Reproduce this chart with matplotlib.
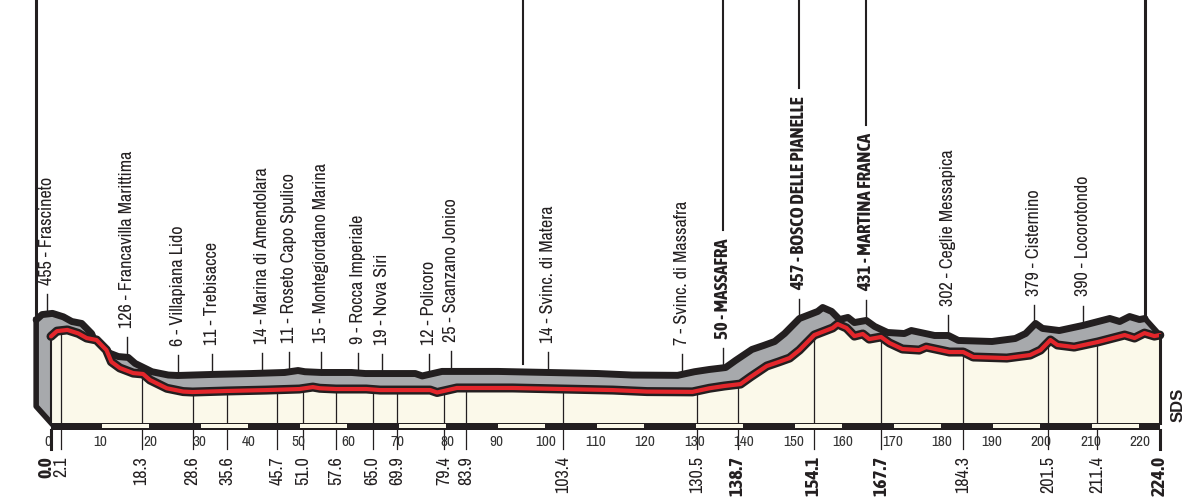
import numpy as np
import matplotlib
matplotlib.use("Agg")
import matplotlib.pyplot as plt
from matplotlib import font_manager
from matplotlib.collections import PolyCollection

# look for a narrow face, the original uses a condensed grotesque
fams = {}
for f in font_manager.fontManager.ttflist:
    if 'Narrow' in f.name or 'Condensed' in f.name:
        w = f.weight
        if isinstance(w, str):
            w = font_manager.weight_dict.get(w, 400)
        fams.setdefault(f.name, set()).add(w)
narrow = sorted(fams)
bold_narrow = [n for n in narrow if max(fams[n]) >= 600]

if narrow:
    REG_FAM = [narrow[0], 'DejaVu Sans']
    SCALE = 1.0
else:
    REG_FAM = ['Liberation Sans', 'DejaVu Sans']
    SCALE = 0.82
if bold_narrow:
    BOLD_FAM = [bold_narrow[0], 'DejaVu Sans']
    BSCALE = 1.0
else:
    BOLD_FAM = ['Liberation Sans', 'DejaVu Sans']
    BSCALE = 0.8
plt.rcParams['font.family'] = REG_FAM

# profile (km, metres)
km = [0, 1.2, 3.3, 5.5, 7.2, 9.2, 11.2, 12.2, 13.9, 16.6, 18.6, 20.0, 23.4, 26.7,
      28.6, 35.6, 43.5, 50.2, 52.9, 54.3, 57.6, 63.7, 66.5, 76.6, 78.0, 82.0,
      93.3, 103.4, 113.5, 120.4, 129.6, 133.0, 136.0, 139.3, 141.3, 144.6, 147.0,
      149.2, 151.2, 154.2, 157.9, 158.9, 160.7, 162.3, 164.0, 165.3, 167.7, 169.4,
      172.0, 175.4, 176.8, 181.5, 184.3, 186.3, 193.1, 197.8, 199.9, 201.9, 203.3,
      206.7, 211.5, 216.9, 218.9, 220.9, 222.9, 224.0]
alt = [375, 410, 418, 395, 364, 351, 284, 206, 165, 131, 125, 85, 30, 8,
       5, 12, 18, 25, 38, 30, 25, 25, 18, 18, 2, 32,
       32, 25, 18, 8, 6, 30, 45, 58, 105, 178, 205,
       231, 284, 384, 431, 457, 431, 377, 391, 357, 371, 331,
       291, 284, 304, 271, 271, 238, 231, 251, 284, 351, 318,
       304, 338, 384, 364, 397, 377, 384]

# places along the route
place_km = [2.1, 18.3, 28.6, 35.6, 45.7, 51.0, 57.6, 65.0, 69.9, 79.4, 83.9,
            103.4, 130.5, 138.7, 154.1, 167.7, 184.3, 201.5, 211.4]
place_names = ["455 - Frascineto", "126 - Francavilla Marittima", "6 - Villapiana Lido",
               "11 - Trebisacce", "14 - Marina di Amendolara", "11 - Roseto Capo Spulico",
               "15 - Montegiordano Marina", "9 - Rocca Imperiale", "19 - Nova Siri",
               "12 - Policoro", "25 - Scanzano Jonico", "14 - Svinc. di Matera",
               "7 - Svinc. di Massafra", "50 - MASSAFRA", "457 - BOSCO DELLE PIANELLE",
               "431 - MARTINA FRANCA", "302 - Ceglie Messapica", "379 - Cisternino",
               "390 - Locorotondo"]
major_km = [138.7, 154.1, 167.7]
start_km = 0.0
finish_km = 224.0
sprint_km = 98.4
km_ticks = list(range(0, 221, 10))

GRAY = '#a7a9ac'
CREAM = '#fbf9ea'
RED = '#e3262b'
INK = '#231f20'

x = np.array(km)
y = np.array(alt, dtype=float)
dx, dy = -3.0, 110.0          # 3d extrusion offset
base = -200.0
strip_h = 45.0
line_bottom = -374.0

fig = plt.figure(figsize=(12, 5), dpi=100)
ax = fig.add_axes([0, 0, 1, 1])
x0 = 51 / 4.95
ax.set_xlim(-x0, (1200 - 51) / 4.95)
ytop = 2612
ax.set_ylim(-713, ytop)
ax.axis('off')

# extruded top surface
quads = []
for i in range(len(x) - 1):
    quads.append([(x[i], y[i]), (x[i + 1], y[i + 1]),
                  (x[i + 1] + dx, y[i + 1] + dy), (x[i] + dx, y[i] + dy)])
quads.append([(0, base), (0, y[0]), (dx, y[0] + dy), (dx, base + dy)])
ax.add_collection(PolyCollection(quads, facecolor=GRAY, edgecolor=GRAY, lw=0.5, zorder=1))
ax.fill_between(x + dx, base + dy, y + dy, color=GRAY, lw=0, zorder=1)

# black silhouette of back face
ax.plot(x + dx, y + dy, color=INK, lw=5, solid_capstyle='round', solid_joinstyle='round', zorder=2)
ax.plot([0, dx, dx], [base, base + dy, y[0] + dy], color=INK, lw=4,
        solid_joinstyle='round', zorder=2)
ax.plot([x[-1] + dx, x[-1]], [y[-1] + dy, y[-1]], color=INK, lw=4, solid_capstyle='round', zorder=2)

# front face
ax.fill_between(x, base, y, color=CREAM, lw=0, zorder=3)
ax.plot([0, 0], [base, y[0]], color=INK, lw=1.5, zorder=4)
ax.plot(x, y, color=INK, lw=6.5, solid_capstyle='round', solid_joinstyle='round', zorder=5)
ax.plot(x, y, color=RED, lw=3, solid_capstyle='round', solid_joinstyle='round', zorder=6)

# km strip
ax.broken_barh([(0, finish_km)], (base - strip_h, strip_h), facecolors=INK, zorder=4)
odd = [(k + 0.3, 9.4) for k in km_ticks if (k // 10) % 2 == 1]
ax.broken_barh(odd, (base - strip_h + 9, strip_h - 18), facecolors=CREAM, zorder=4)
for k in km_ticks:
    ax.text(k - (0.6 if k == 0 else 0), -328, str(k), ha='center', va='center',
            fontsize=11 * SCALE, color='#333333', zorder=7)

# place lines and km labels
all_km = [start_km] + place_km + [finish_km]
for k in all_km:
    ye = np.interp(k, x, y)
    heavy = k in (start_km, finish_km)
    ax.plot([k, k], [ye if not heavy else base - strip_h, line_bottom], color=INK,
            lw=2.2 if heavy else 0.9, zorder=7 if heavy else 3.5)
    bold = heavy or k in major_km
    if bold:
        kw = dict(family=BOLD_FAM, fontweight='bold', fontsize=14 * BSCALE)
    else:
        kw = dict(fontsize=13 * SCALE)
    ax.text(k - (0.9 if k == start_km else 0), -421, f"{k:.1f}", rotation=90,
            ha='center', va='top', color=INK, **kw)
ax.plot([finish_km, finish_km], [y[-1], base], color=INK, lw=2.2, zorder=7)

# place names above the top surface
labels = []
for k, name in zip(place_km, place_names):
    yt = np.interp(k, x, y) + dy
    ax.plot([k + dx, k + dx], [yt, yt + 133], color=INK, lw=1.0, zorder=1.5)
    if k in major_km:
        kw = dict(family=BOLD_FAM, fontweight='bold', fontsize=13.5 * BSCALE)
    else:
        kw = dict(fontsize=13 * SCALE)
    t = ax.text(k + dx, yt + 193, name, rotation=90, ha='center', va='bottom',
                color=INK, **kw)
    labels.append((k, t))

ax.text(227.7, -81, "SDS", rotation=90, ha='center', va='center', fontsize=12,
        family=['Liberation Sans', 'DejaVu Sans'], fontweight='bold', color=INK)

# start / finish / sprint markers from the top
ax.plot([start_km + dx] * 2, [y[0] + dy, ytop], color=INK, lw=2.2, zorder=2)
ax.plot([finish_km + dx] * 2, [y[-1] + dy, ytop], color=INK, lw=2.2, zorder=2)
ys = np.interp(sprint_km, x, y) + dy + 50
ax.plot([sprint_km + dx] * 2, [ys, ytop], color=INK, lw=1.5, zorder=2)

fig.canvas.draw()
r = fig.canvas.get_renderer()
inv = ax.transData.inverted()
for k, t in labels:
    if k in major_km:
        bb = t.get_window_extent(r)
        ytxt = inv.transform((0, bb.y1))[1]
        ax.plot([k + dx] * 2, [ytxt + 55, ytop], color=INK, lw=1.5)

fig.savefig("out.png", dpi=100, facecolor='white')
